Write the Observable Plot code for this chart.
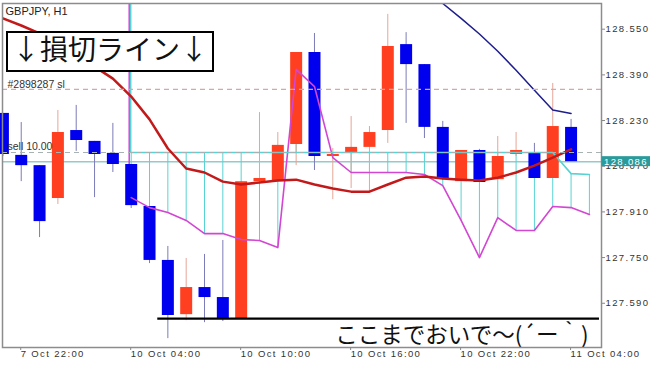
<!DOCTYPE html>
<html><head><meta charset="utf-8">
<script src="https://cdn.jsdelivr.net/npm/d3@7"></script>
<script src="https://cdn.jsdelivr.net/npm/@observablehq/plot@0.6"></script>
<style>
body{margin:0;background:#fff;}
#chart{position:relative;width:650px;height:366px;}
</style></head><body><div id="chart"></div>
<script>
// ---- data (GBPJPY H1) ----
const symbolTitle = "GBPJPY, H1";
const noteTop = "↓損切ライン↓";
const noteBottom = "ここまでおいで〜(´ー｀)";
const timeLabels = ["7 Oct 22:00","10 Oct 04:00","10 Oct 10:00","10 Oct 16:00","10 Oct 22:00","11 Oct 04:00"];
const timeTickIndex = [1,7,13,19,25,31];
const priceTicks = [128.550,128.390,128.230,128.070,127.910,127.750,127.590];

const opens  = [128.255,128.108,128.072,127.957,128.195,128.157,128.115,128.076,127.929,127.740,127.550,127.645,127.610,127.536,128.016,128.020,128.146,128.468,128.104,128.115,128.136,128.195,128.496,128.426,128.206,128.016,128.125,128.023,128.111,128.118,128.027,128.206];
const highs  = [128.255,128.223,128.072,128.265,128.283,128.157,128.220,128.076,127.929,127.789,127.747,127.761,127.810,128.016,128.258,128.188,128.468,128.535,128.132,128.244,128.209,128.602,128.538,128.426,128.227,128.125,128.129,128.174,128.188,128.150,128.360,128.234];
const lows   = [128.104,128.016,127.820,127.936,128.122,127.960,128.048,127.922,127.729,127.466,127.529,127.522,127.526,127.536,128.016,128.020,128.072,128.055,127.953,127.992,127.978,128.150,128.220,128.167,128.020,128.016,128.013,128.023,128.104,128.027,128.027,128.086];
const closes = [128.111,128.072,127.876,128.188,128.160,128.111,128.076,127.932,127.740,127.547,127.645,127.610,127.536,128.016,128.027,128.143,128.468,128.104,128.111,128.136,128.188,128.489,128.426,128.206,128.027,128.125,128.013,128.104,128.125,128.027,128.209,128.086];

const maRed = [128.588,128.563,128.535,128.496,128.458,128.419,128.377,128.314,128.234,128.132,128.062,128.048,128.016,128.006,128.013,128.020,128.023,128.006,127.992,127.981,127.981,128.006,128.030,128.034,128.027,128.023,128.020,128.030,128.048,128.072,128.100,128.129];
const navyStart = 23;
const maNavy = [128.696,128.640,128.588,128.533,128.473,128.406,128.336,128.267,128.255];

const cloudStart = 7;
const spanA = [128.118,128.118,128.118,128.118,128.118,128.118,128.118,128.118,128.118,128.118,128.118,128.118,128.118,128.118,128.118,128.118,128.118,128.118,128.118,128.118,128.118,128.118,128.118,128.118,128.044,128.041];
const spanB = [127.960,127.925,127.908,127.880,127.834,127.834,127.813,127.810,127.785,128.409,128.349,128.100,128.048,128.048,128.048,128.048,128.041,128.002,127.880,127.750,127.890,127.845,127.845,127.929,127.925,127.901];

const bidPrice = 128.086;
const slPrice = 128.339;
const sellPrice = 128.118;
const slLabel = "#2898287 sl";
const sellLabel = "sell 10.00";
const targetPrice = 127.536;
const targetSpan = [8.45, 32.55];

const xDomain = [-0.022, 32.66];
const yDomain = [127.435, 128.640];

// ---- build ----
const candles = opens.map((o,i)=>({k:i,o,h:highs[i],l:lows[i],c:closes[i],up:closes[i]>=opens[i]}));
const red = maRed.map((v,i)=>({k:i,v}));
const navy = maNavy.map((v,i)=>({k:i+navyStart,v}));
const cloud = spanA.map((a,i)=>({k:i+cloudStart,a,b:spanB[i]}));

const CY="#58d3d3", MG="#d246d2";
const plot = Plot.plot({
  width:650, height:366, marginLeft:2, marginRight:49, marginTop:3, marginBottom:19,
  x:{domain:xDomain, axis:null, label:null},
  y:{domain:yDomain, axis:null, label:null},
  color:{type:"identity"},
  style:{fontFamily:"'Liberation Sans', Arial, sans-serif", fontSize:"10px", color:"#333", background:"#fff", overflow:"visible"},
  marks:[
    Plot.ruleY([bidPrice], {y:d=>d, stroke:"#93caca", strokeWidth:1.5}),
    Plot.ruleX(cloud, {x:"k", y1:"a", y2:"b", stroke:CY, strokeWidth:1}),
    Plot.ruleX([cloud[0]], {x:"k", y1:"b", y2:()=>yDomain[1], stroke:MG, strokeWidth:1.5, dx:-2}),
    Plot.ruleX([cloud[0]], {x:"k", y1:"a", y2:()=>yDomain[1], stroke:CY, strokeWidth:1.5, dx:-0.5}),
    Plot.ruleX(candles, {x:"k", y1:"l", y2:"h", stroke:d=>d.up?"#e6a596":"#7c7cb8", strokeWidth:1}),
    Plot.ruleX(candles, {x:"k", y1:"o", y2:"c", stroke:d=>d.up?"#ff3f1f":"#0000ee", strokeWidth:12}),
    Plot.line(cloud, {x:"k", y:"b", stroke:MG, strokeWidth:1.6}),
    Plot.line(cloud, {x:"k", y:"a", stroke:CY, strokeWidth:1.6}),
    Plot.line(red, {x:"k", y:"v", stroke:"#c21a1a", strokeWidth:2.5, clip:true}),
    Plot.line(navy, {x:"k", y:"v", stroke:"#1d1d8c", strokeWidth:1.5, clip:true}),
    Plot.ruleY([slPrice], {y:d=>d, stroke:"#d3a8a8", strokeWidth:1.2, strokeDasharray:"5,4"}),
    Plot.ruleY([sellPrice], {y:d=>d, stroke:"#a8b2b2", strokeWidth:1.2, strokeDasharray:"5,4"}),
    Plot.ruleY([targetPrice], {y:d=>d, x1:targetSpan[0], x2:targetSpan[1], stroke:"#000", strokeWidth:2.2}),
    Plot.text([symbolTitle], {frameAnchor:"top-left", dx:3, dy:4, lineAnchor:"top", fill:"#222", fontSize:11}),
    Plot.text([slPrice], {y:d=>d, text:()=>slLabel, frameAnchor:"left", dx:5, dy:-5, textAnchor:"start", fill:"#333", fontSize:10.5, ariaLabel:"lvl"}),
    Plot.text([sellPrice], {y:d=>d, text:()=>sellLabel, frameAnchor:"left", dx:5, dy:-5.5, textAnchor:"start", fill:"#333", fontSize:10.5, ariaLabel:"lvl"}),
    Plot.text([noteBottom], {frameAnchor:"bottom-right", dx:-13, dy:-12, textAnchor:"end", lineAnchor:"middle", fill:"#111", fontSize:22.5, fontFamily:"'Noto Sans CJK JP', sans-serif"}),
    Plot.frame({stroke:"#8c8c8c", strokeWidth:1.5}),
    Plot.axisY({anchor:"right", ticks:priceTicks, tickFormat:d=>d.toFixed(3), tickSize:3, tickPadding:1, stroke:"#888", fill:"#333", fontSize:9.5, label:null}),
    Plot.axisX({ticks:timeTickIndex, tickFormat:d=>timeLabels[timeTickIndex.indexOf(d)], tickSize:3, tickPadding:0, textAnchor:"start", dx:-0.5, stroke:"#888", fill:"#333", fontSize:9.5, label:null})
  ]
});
document.getElementById("chart").appendChild(plot);
const svg = d3.select(plot);
svg.selectAll('g[aria-label="y-axis tick label"] text, g[aria-label="x-axis tick label"] text').style("letter-spacing","1.35px");
svg.selectAll('g[aria-label="lvl"] text').style("letter-spacing","0.8px");

// bid price tag on the right axis
const yS = plot.scale("y");
const by = yS.apply(bidPrice);
const tag = svg.append("g");
tag.append("rect").attr("x",601.5).attr("y",by-5).attr("width",48.5).attr("height",10).attr("fill","#2b9a9a");
tag.append("text").attr("x",604).attr("y",by+3.6).attr("text-anchor","start").attr("fill","#fff")
  .style("font-family","'Liberation Sans', Arial, sans-serif").style("font-size","9.5px").style("letter-spacing","1.35px")
  .text(bidPrice.toFixed(3));

// boxed note at top-left
const note = svg.append("g");
note.append("rect").attr("x",7).attr("y",32).attr("width",206).attr("height",39).attr("fill","#fff").attr("stroke","#000").attr("stroke-width",2);
note.append("text").attr("x",110).attr("y",60).attr("text-anchor","middle").attr("fill","#111")
  .style("font-family","'Noto Sans CJK JP', sans-serif").style("font-size","28px")
  .text(noteTop);
</script></body></html>
